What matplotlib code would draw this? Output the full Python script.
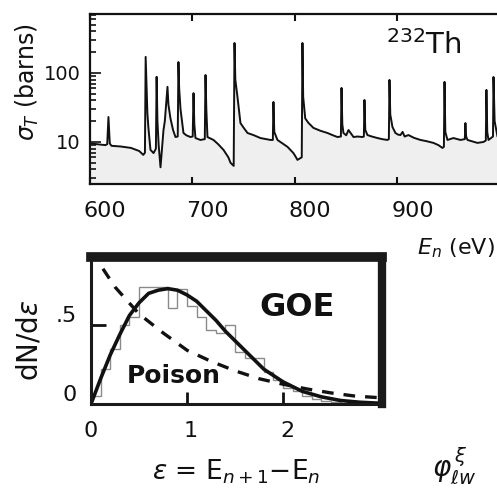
import numpy as np
import matplotlib.pyplot as plt
from matplotlib.transforms import ScaledTranslation

# top panel: total cross section trace of 232Th
energy = [601, 615, 616.8, 618, 619.3, 621, 630, 640, 648, 652,
          653.6, 654.3, 655.2, 656, 657, 659, 662, 664.3, 665, 665.8, 667, 668.8,
          670.5, 671.7, 673, 675.6, 676.5, 678.5, 681, 683.4, 685.6, 686.3, 687,
          688.3, 691.2, 694, 698,
          700.2, 701, 701.8, 702.9, 707.8, 712, 712.7, 713.5, 714.6, 720.5, 725,
          730.2, 735, 737.1, 740.2,
          741, 741.8, 743.9, 746.8, 750, 753.7, 760, 766.3, 772, 776.1, 778.4,
          779, 779.8, 782.9, 788, 792.7, 798.5, 801, 802.4,
          806.6, 807.3, 808, 810, 813, 818, 825, 831.7, 837, 841.5, 844.8, 845.4,
          846.2, 847.3, 850, 852.2, 857.1,
          861, 865.9, 867.2, 867.8, 868.6, 870.7, 875, 880.5, 885, 890.2, 891.6,
          892.2, 893, 895.1, 898, 900.5, 902.9, 905, 907, 910.7, 916, 922.4, 928,
          935.1, 940, 943.9, 945.3, 945.9, 946.7, 948.8, 954.6, 961.5, 965.7,
          966.3, 967, 968.3, 973, 978, 983.9, 986.2, 986.8, 987.6, 988.8, 992.7,
          993.2, 993.7, 994.8, 997.6, 1005]
sigma = [9.5, 9.0, 9.3, 23, 9.5, 8.8, 8.6, 8.2, 7.4, 6.5,
         7.0, 171, 60, 26, 16, 7.7, 6.9, 8.0, 88, 20, 9.0, 4.3,
         9.0, 14.9, 20, 63, 35, 22, 15, 11.8, 12, 144, 60,
         30, 13.5, 12.5, 11.8,
         12, 51, 18, 11.4, 10.7, 11, 93.5, 30, 11.8, 10.7, 9.3,
         7.7, 6.0, 5.0, 4.5,
         272, 80, 44.9, 18.8, 16, 13.5, 12.5, 11.4, 11, 10.7, 10.7,
         38, 14, 10.7, 9.5, 8.5, 6.9, 6.0, 5.5,
         6.0, 272, 45, 22, 19, 16, 14.5, 13.5, 12.5, 11.8, 12, 60.7,
         18, 13.5, 12.5, 14.9, 11.8,
         12, 11.8, 12, 40.6, 15, 12.6, 12, 11.4, 11, 10.7, 11,
         79.3, 25, 16.5, 13.5, 12.8, 12.6, 14, 12, 12.6, 11.5, 10.7, 10.3,
         9.7, 9, 8.2, 8.5, 74.2, 14, 10.7, 11.4, 10.7, 11,
         18.8, 12, 10.7, 10.2, 9.7, 10, 10.5, 56.8, 14, 10.7, 11.8,
         12, 87.5, 20, 12, 11]
e_ticks = [600, 700, 800, 900]
sigma_ticks = [10, 100]

# bottom panel: spacing distribution
hist_edges = [0.0, 0.1, 0.2, 0.3, 0.4, 0.5, 0.6, 0.7, 0.8, 0.9, 1.0, 1.1, 1.2,
              1.3, 1.4, 1.5, 1.6, 1.7, 1.8, 1.9, 2.0, 2.1, 2.2, 2.3, 2.4, 2.5, 2.6]
hist_counts = [0.05, 0.22, 0.35, 0.50, 0.55, 0.74, 0.74, 0.74, 0.61, 0.73, 0.62,
               0.55, 0.47, 0.45, 0.50, 0.33, 0.29, 0.29, 0.20, 0.15, 0.10, 0.08,
               0.05, 0.03, 0.02, 0.01]
goe_s = [0, 0.1, 0.2, 0.3, 0.4, 0.5, 0.6, 0.7, 0.8, 0.9, 1.0, 1.1, 1.2, 1.3,
         1.4, 1.5, 1.6, 1.7, 1.8, 1.9, 2.0, 2.2, 2.4, 2.6, 2.8, 3.0]
goe_p = [0, 0.16, 0.31, 0.44, 0.56, 0.64, 0.70, 0.72, 0.73, 0.72, 0.69, 0.65,
         0.59, 0.53, 0.46, 0.40, 0.34, 0.28, 0.22, 0.18, 0.14, 0.08, 0.045,
         0.022, 0.011, 0.005]
poisson_s = [0, 0.25, 0.5, 0.75, 1.0, 1.25, 1.5, 1.75, 2.0, 2.25, 2.5, 2.75, 3.0]
poisson_p = [0.97, 0.74, 0.57, 0.45, 0.34, 0.27, 0.21, 0.16, 0.125, 0.095,
             0.07, 0.05, 0.04]
s_ticks = [0, 1, 2]
p_ticks = [0, 0.5]

W, H = 497, 488
fig = plt.figure(figsize=(W / 100, H / 100), dpi=100)

def box(x0, y0, x1, y1):
    # pixel box (top-left origin) -> figure fraction
    return [x0 / W, 1 - y1 / H, (x1 - x0) / W, (y1 - y0) / H]

ink = '#111111'

# ---- top panel
ax1 = fig.add_axes(box(90, 14, 510, 184))
ax1.fill_between(energy, 2.46, sigma, color='#efefef', lw=0)
ax1.plot(energy, sigma, color=ink, lw=1.4)
ax1.set_yscale('log')
ax1.set_xlim(600, 1009.8)
ax1.set_ylim(2.46, 716)
for sp in ax1.spines.values():
    sp.set_linewidth(1.6)
    sp.set_color(ink)
ax1.set_xticks(e_ticks)
ax1.set_xticklabels([str(t) for t in e_ticks], fontsize=16)
ax1.set_yticks(sigma_ticks)
ax1.set_yticklabels([str(t) for t in sigma_ticks], fontsize=14)
ax1.tick_params(axis='x', direction='in', length=5, width=1.5, pad=12,
                top=True, colors=ink)
ax1.tick_params(axis='y', which='both', direction='in', width=1.2, pad=7,
                colors=ink)
ax1.tick_params(axis='y', which='major', length=8)
ax1.tick_params(axis='y', which='minor', length=4)
for lab in ax1.get_xticklabels():
    lab.set_transform(lab.get_transform() + ScaledTranslation(0.15, 0, fig.dpi_scale_trans))
fig.text(27 / W, 1 - 82 / H, r'$\sigma_T$ (barns)', rotation=90,
         ha='center', va='center', fontsize=17, color=ink)
fig.text(386 / W, 1 - 45 / H, r'$^{232}$Th', ha='left', va='center',
         fontsize=21, color=ink)
fig.text(495 / W, 1 - 248 / H, r'$E_n$ (eV)', ha='right', va='center',
         fontsize=16, color=ink)

# ---- bottom panel
ax2 = fig.add_axes(box(91, 257, 382, 404))
ax2.stairs(hist_counts, hist_edges, color='#8a8a8a', lw=1.0)
ax2.plot(poisson_s, poisson_p, color=ink, lw=2.4, dashes=(3.5, 3))
ax2.plot(goe_s, goe_p, color=ink, lw=2.6, solid_capstyle='round')
ax2.set_xlim(0, 3.03)
ax2.set_ylim(0, 0.93)
ax2.spines['top'].set_linewidth(7)
ax2.spines['right'].set_linewidth(6)
ax2.spines['left'].set_linewidth(2.2)
ax2.spines['bottom'].set_linewidth(2.2)
for sp in ax2.spines.values():
    sp.set_color('#1a1a1a')
ax2.set_xticks(s_ticks)
ax2.set_xticklabels([str(t) for t in s_ticks], fontsize=16)
ax2.set_yticks(p_ticks)
ax2.set_yticklabels(['0', '.5'], fontsize=16)
ax2.tick_params(axis='x', direction='in', length=9, width=2, pad=12, colors=ink)
ax2.tick_params(axis='y', direction='in', length=11, width=2, pad=10, colors=ink)
for lab in ax2.get_yticklabels():
    lab.set_transform(lab.get_transform() + ScaledTranslation(0, 0.11, fig.dpi_scale_trans))
for lab in ax2.get_xticklabels()[1:]:
    lab.set_transform(lab.get_transform() + ScaledTranslation(0.04, 0, fig.dpi_scale_trans))
ax2.text(2.15, 0.61, 'GOE', ha='center', va='center', fontsize=23,
         fontweight='bold', color=ink)
ax2.text(0.86, 0.18, 'Poison', ha='center', va='center', fontsize=18,
         fontweight='bold', color=ink)
fig.text(29 / W, 1 - 340 / H, r'dN/d$\epsilon$', rotation=90, ha='center',
         va='center', fontsize=20, color=ink)
fig.text(236 / W, 1 - 472 / H, r'$\epsilon$ = E$_{n+1}$$-$E$_n$', ha='center',
         va='center', fontsize=19, color=ink)
fig.text(432 / W, 1 - 466 / H, r'$\varphi_{\ell w}^{\,\xi}$', ha='left',
         va='center', fontsize=20, color=ink)

fig.savefig('out.png', dpi=100)
